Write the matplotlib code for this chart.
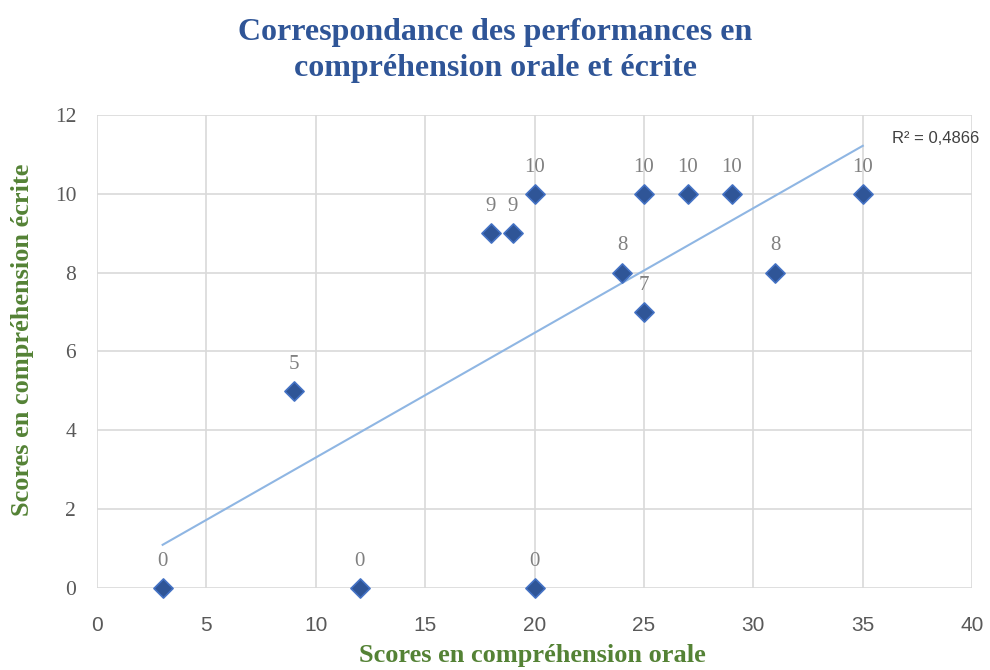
import numpy as np
import matplotlib.pyplot as plt

# données : scores oral (x) / écrit (y)
oral = [3, 9, 12, 18, 19, 20, 20, 24, 25, 25, 27, 29, 31, 35]
ecrit = [0, 5, 0, 9, 9, 10, 0, 8, 10, 7, 10, 10, 8, 10]
x_ticks = [0, 5, 10, 15, 20, 25, 30, 35, 40]
y_ticks = [0, 2, 4, 6, 8, 10, 12]

TITLE = "Correspondance des performances en\ncompréhension orale et écrite"
XLABEL = "Scores en compréhension orale"
YLABEL = "Scores en compréhension écrite"

SERIF = "Liberation Serif"
SANS = "Liberation Sans"

fig = plt.figure(figsize=(9.9, 6.7), dpi=100)
ax = fig.add_axes([0.098, 0.1224, 0.884, 0.706])

# droite de tendance (moindres carrés)
a, b = np.polyfit(oral, ecrit, 1)
xs = np.array([min(oral), max(oral)])
ax.plot(xs, a * xs + b, color="#8FB6E3", lw=1.5, zorder=2)
pred = a * np.array(oral) + b
r2 = 1 - np.sum((np.array(ecrit) - pred) ** 2) / np.sum((np.array(ecrit) - np.mean(ecrit)) ** 2)

ax.scatter(oral, ecrit, marker="D", s=95, color="#2F5597", edgecolor="#4472C4",
           linewidth=1.2, zorder=3, clip_on=False)

for xv, yv in zip(oral, ecrit):
    ax.annotate(str(yv), (xv, yv), xytext=(0, 16), textcoords="offset points",
                ha="center", va="baseline", fontsize=15, color="#808080", family=SERIF)

fig.text(0.901, 0.794, "R² = " + f"{r2:.4f}".replace(".", ","),
         fontsize=12, color="#404040", family=SANS, ha="left", va="center")

ax.set_xlim(0, 40)
ax.set_ylim(0, 12)
ax.set_xticks(x_ticks)
ax.set_yticks(y_ticks)
ax.set_xticklabels([str(t) for t in x_ticks], family=SANS, fontsize=15, color="#595959")
ax.set_yticklabels([str(t) for t in y_ticks], family=SERIF, fontsize=15.5, color="#595959")
ax.tick_params(axis="x", length=0, pad=20)
ax.tick_params(axis="y", length=0, pad=15)
ax.grid(True, color="#D9D9D9", lw=1.2)
ax.set_axisbelow(True)
for s in ax.spines.values():
    s.set_visible(False)

fig.text(0.5, 0.925, TITLE, ha="center", va="center", fontsize=23, fontweight="bold",
         color="#2F5597", family=SERIF, linespacing=1.3)
fig.text(0.538, 0.021, XLABEL, ha="center", va="center", fontsize=19, fontweight="bold",
         color="#548235", family=SERIF)
fig.text(0.023, 0.4925, YLABEL, ha="center", va="center", rotation=90, fontsize=19,
         fontweight="bold", color="#548235", family=SERIF)

fig.savefig("out.png", dpi=100)
